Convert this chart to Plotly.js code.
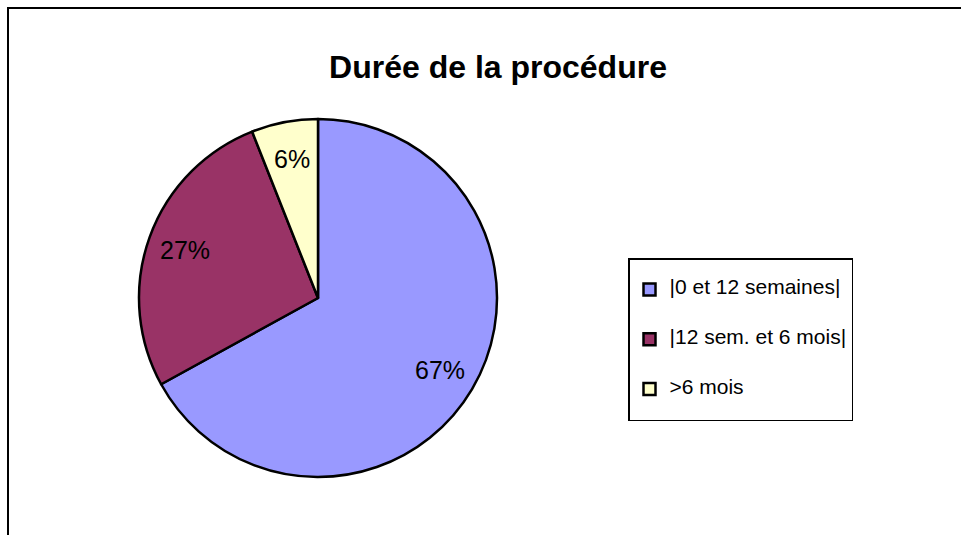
<!DOCTYPE html>
<html>
<head>
<meta charset="utf-8">
<script src="https://cdn.plot.ly/plotly-3.0.1.min.js"></script>
<style>
  html, body { margin: 0; padding: 0; background: #fff; }
  #chart { width: 961px; height: 535px; }
</style>
</head>
<body>
<div id="chart"></div>
<script>
// data
let slice_labels = ["|0 et 12 semaines|", "|12 sem. et 6 mois|", ">6 mois"];
let slice_values = [67, 27, 6];
let slice_colors = ["#9999ff", "#993366", "#ffffcc"];
let chart_title = "Durée de la procédure";

let font_family = "Liberation Sans, Arial, sans-serif";
let W = 961, H = 535;
let pie_cx = 318, pie_cy = 298, pie_r = 179;

// blank lines around each legend label give the roomy spacing of the original legend
let legend_labels = slice_labels.map(function (l) {
  return " <br><span style='font-size:21px'>" + l + "</span><br> ";
});

// percent labels sit at ~78% of the radius on each slice's middle angle, like the original
let total = slice_values.reduce((a, b) => a + b, 0);
let label_annotations = [];
let cum = 0;
for (let i = 0; i < slice_values.length; i++) {
  let mid = ((cum + slice_values[i] / 2) / total) * 2 * Math.PI;
  cum += slice_values[i];
  let rr = pie_r * 0.79;
  label_annotations.push({
    xref: "paper",
    yref: "paper",
    x: (pie_cx + rr * Math.sin(mid)) / W,
    y: 1 - (pie_cy - rr * Math.cos(mid)) / H,
    xanchor: "center",
    yanchor: "middle",
    showarrow: false,
    text: Math.round((slice_values[i] / total) * 100) + "%",
    font: { family: font_family, size: 25, color: "#000" },
  });
}

let trace = {
  type: "pie",
  labels: legend_labels,
  values: slice_values,
  sort: false,
  direction: "clockwise",
  rotation: 0,
  marker: { colors: slice_colors, line: { color: "#000", width: 2.5 } },
  textinfo: "none",
  hoverinfo: "none",
  domain: { x: [(pie_cx - pie_r) / W, (pie_cx + pie_r) / W], y: [1 - (pie_cy + pie_r) / H, 1 - (pie_cy - pie_r) / H] },
};

let layout = {
  width: W,
  height: H,
  margin: { l: 0, r: 0, t: 0, b: 0 },
  paper_bgcolor: "#fff",
  font: { family: font_family, color: "#000" },
  title: {
    text: "<b>" + chart_title + "</b>",
    font: { family: font_family, size: 32, color: "#000" },
    x: 498 / W,
    xanchor: "center",
    y: 1 - 67 / H,
    yanchor: "middle",
  },
  showlegend: true,
  legend: {
    x: 628 / W,
    xanchor: "left",
    y: 1 - 258 / H,
    yanchor: "top",
    bgcolor: "#fff",
    bordercolor: "#000",
    borderwidth: 1.5,
    font: { family: font_family, size: 12, color: "#000" },
  },
  annotations: label_annotations,
  shapes: [
    {
      type: "rect",
      xref: "paper",
      yref: "paper",
      x0: 8 / W,
      x1: 1.2,
      y0: -0.2,
      y1: 1 - 8 / H,
      line: { color: "#000", width: 2 },
      fillcolor: "rgba(0,0,0,0)",
      layer: "below",
    },
  ],
};

Plotly.newPlot("chart", [trace], layout, { staticPlot: true, displayModeBar: false });
</script>
</body>
</html>
